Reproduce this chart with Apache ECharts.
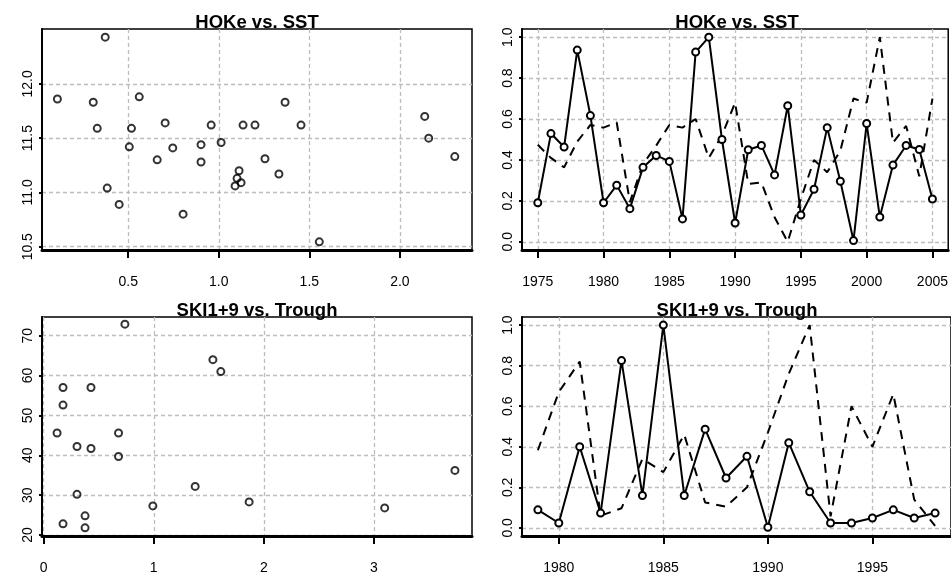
<!DOCTYPE html>
<html><head><meta charset="utf-8">
<script src="https://cdn.jsdelivr.net/npm/echarts@6/dist/echarts.min.js"></script>
<style>html,body{margin:0;padding:0;background:#fff}#c{width:951px;height:575px}</style>
</head><body><div id="c"></div>
<script>
// Panel 1: HOKe vs. SST (scatter)
const hokeSST_x = [0.109,0.307,0.329,0.373,0.384,0.450,0.506,0.518,0.561,0.660,0.704,0.746,0.803,0.902,0.902,0.958,1.013,1.090,1.101,1.112,1.123,1.134,1.200,1.255,1.332,1.366,1.454,1.555,2.137,2.159,2.303];
const hokeSST_y = [11.86,11.83,11.59,12.43,11.04,10.89,11.42,11.59,11.88,11.30,11.64,11.41,10.80,11.44,11.28,11.62,11.46,11.06,11.13,11.20,11.09,11.62,11.62,11.31,11.17,11.83,11.62,10.545,11.70,11.50,11.33];
// Panel 2: HOKe vs. SST (normalised time series)
const yearsA = [1975,1976,1977,1978,1979,1980,1981,1982,1983,1984,1985,1986,1987,1988,1989,1990,1991,1992,1993,1994,1995,1996,1997,1998,1999,2000,2001,2002,2003,2004,2005];
const hokeNorm = [0.191,0.529,0.463,0.937,0.617,0.191,0.277,0.162,0.364,0.422,0.393,0.112,0.927,1.0,0.5,0.092,0.45,0.471,0.327,0.665,0.131,0.257,0.558,0.296,0.006,0.578,0.121,0.375,0.471,0.451,0.209];
const sstNorm = [0.474,0.41,0.364,0.49,0.571,0.558,0.583,0.194,0.38,0.47,0.571,0.558,0.60,0.41,0.52,0.68,0.283,0.29,0.12,0.0,0.21,0.40,0.34,0.445,0.70,0.68,1.0,0.485,0.566,0.32,0.70];
// Panel 3: SKI1+9 vs. Trough (scatter)
const skiTrough_x = [0.122,0.176,0.176,0.176,0.303,0.303,0.376,0.376,0.43,0.43,0.68,0.68,0.738,0.992,1.376,1.537,1.609,1.866,3.097,3.735];
const skiTrough_y = [45.6,57.0,52.6,22.8,42.2,30.2,24.8,21.8,57.0,41.7,45.6,39.7,72.9,27.3,32.2,64.0,61.0,28.3,26.8,36.2];
// Panel 4: SKI1+9 vs. Trough (normalised time series)
const yearsB = [1979,1980,1981,1982,1983,1984,1985,1986,1987,1988,1989,1990,1991,1992,1993,1994,1995,1996,1997,1998];
const skiNorm = [0.089,0.024,0.40,0.073,0.825,0.16,1.0,0.16,0.487,0.246,0.353,0.003,0.42,0.178,0.024,0.024,0.049,0.089,0.049,0.073];
const troughNorm = [0.383,0.67,0.82,0.06,0.097,0.34,0.275,0.46,0.125,0.105,0.20,0.47,0.76,1.0,0.057,0.60,0.40,0.66,0.14,0.01];
// Tick labels
const ticksX1 = [0.5,1.0,1.5,2.0];
const ticksY1 = [10.5,11.0,11.5,12.0];
const ticksYearsA = [1975,1980,1985,1990,1995,2000,2005];
const ticksNorm = [0,0.2,0.4,0.6,0.8,1.0];
const ticksX3 = [0,1,2,3];
const ticksY3 = [20,30,40,50,60,70];
const ticksYearsB = [1980,1985,1990,1995];

const FONT = 'Liberation Sans, Arial, Helvetica, sans-serif';
const gridLine = {show:true, lineStyle:{color:'#bdbdbd', type:[4,3], width:1.3}};
function f1(v){return v.toFixed(1);}
function f0(v){return String(Math.round(v));}
function xAx(g, min, max, step, ticks, fmt){
  return {type:'value', gridIndex:g, min:min, max:max, minInterval:step, maxInterval:step,
    axisLine:{show:true, onZero:false, lineStyle:{color:'#000', width:3}},
    axisTick:{show:true, customValues:ticks, length:8, lineStyle:{color:'#000', width:2}},
    axisLabel:{customValues:ticks, formatter:fmt, margin:25, color:'#000', fontSize:14, fontFamily:FONT},
    splitLine:gridLine};
}
function yAx(g, min, max, step, ticks, fmt){
  return {type:'value', gridIndex:g, min:min, max:max, minInterval:step, maxInterval:step,
    axisLine:{show:true, onZero:false, lineStyle:{color:'#000', width:2}},
    axisTick:{show:true, customValues:ticks, length:3, lineStyle:{color:'#000', width:2}},
    axisLabel:{customValues:ticks, formatter:fmt, rotate:90, margin:7, color:'#000', fontSize:14, fontFamily:FONT},
    splitLine:gridLine};
}
function pairs(xs, ys){return xs.map((v,i)=>[v, ys[i]]);}
function scatter(g, xs, ys){
  return {type:'scatter', xAxisIndex:g, yAxisIndex:g, data:pairs(xs,ys), silent:true,
    symbol:'circle', symbolSize:7, itemStyle:{color:'rgba(255,255,255,0)', borderColor:'#000', borderWidth:2}};
}
function solid(g, xs, ys){
  return {type:'line', xAxisIndex:g, yAxisIndex:g, data:pairs(xs,ys), symbol:'circle', symbolSize:7, showSymbol:true, z:3,
    lineStyle:{color:'#000', width:2}, itemStyle:{color:'#fff', borderColor:'#000', borderWidth:2}, silent:true};
}
function dashed(g, xs, ys){
  return {type:'line', xAxisIndex:g, yAxisIndex:g, data:pairs(xs,ys), symbol:'none', z:2,
    lineStyle:{color:'#000', width:2, type:[9,7]}, silent:true};
}
const titleStyle = {fontSize:18.5, fontWeight:'bold', color:'#000', fontFamily:FONT};
const chart = echarts.init(document.getElementById('c'), null, {renderer:'canvas'});
chart.setOption({
  animation:false,
  backgroundColor:'#fff',
  title:[
    {text:'HOKe vs. SST', left:257, top:13, textAlign:'center', padding:0, textStyle:titleStyle},
    {text:'HOKe vs. SST', left:737, top:13, textAlign:'center', padding:0, textStyle:titleStyle},
    {text:'SKI1+9 vs. Trough', left:257, top:301, textAlign:'center', padding:0, textStyle:titleStyle},
    {text:'SKI1+9 vs. Trough', left:737, top:301, textAlign:'center', padding:0, textStyle:titleStyle}
  ],
  grid:[
    {left:42, top:29, width:430, height:221, show:true, borderColor:'#000', borderWidth:1.5},
    {left:522, top:29, width:431, height:221, show:true, borderColor:'#000', borderWidth:1.5},
    {left:42, top:317, width:430, height:221, show:true, borderColor:'#000', borderWidth:1.5},
    {left:522, top:317, width:431, height:221, show:true, borderColor:'#000', borderWidth:1.5}
  ],
  xAxis:[
    xAx(0, 0.024, 2.398, 0.5, ticksX1, f1),
    xAx(1, 1973.8, 2006.2, 5, ticksYearsA, f0),
    xAx(2, -0.015, 3.89, 1, ticksX3, f0),
    xAx(3, 1978.24, 1998.76, 5, ticksYearsB, f0)
  ],
  yAxis:[
    yAx(0, 10.47, 12.505, 0.5, ticksY1, f1),
    yAx(1, -0.04, 1.04, 0.2, ticksNorm, f1),
    yAx(2, 19.75, 74.7, 10, ticksY3, f0),
    yAx(3, -0.04, 1.04, 0.2, ticksNorm, f1)
  ],
  series:[
    scatter(0, hokeSST_x, hokeSST_y),
    dashed(1, yearsA, sstNorm),
    solid(1, yearsA, hokeNorm),
    scatter(2, skiTrough_x, skiTrough_y),
    dashed(3, yearsB, troughNorm),
    solid(3, yearsB, skiNorm)
  ]
});
</script></body></html>
